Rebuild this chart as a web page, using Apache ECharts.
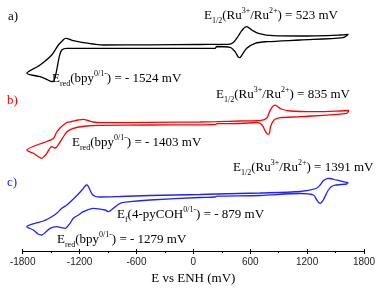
<!DOCTYPE html>
<html>
<head>
<meta charset="utf-8">
<script src="https://cdn.jsdelivr.net/npm/echarts@6/dist/echarts.min.js"></script>
<style>
  html, body { margin: 0; padding: 0; background: #fff; }
  #chart { width: 387px; height: 290px; }
</style>
</head>
<body>
<div id="chart"></div>
<script>
  // potential (mV vs ENH) and current (a.u.), closed loop per voltammogram
  const potA = [1635, 1548, 1126, 844, 686, 616, 580, 563, 545, 527, 500, 475, 422, 366, 71, -457, -949, -1055, -1160, -1266, -1310, -1335, -1355, -1371, -1424, -1494, -1617, -1757,
    -1617, -1533, -1495, -1477, -1460, -1441, -1414, -1388, -1335, -984, -457, 229, 247, 387, 440, 475, 490, 503, 563, 651, 774, 1126, 1579, 1635]
  const curA = [10.7, 10, 9, 9.3, 11.7, 15, 17.6, 18.3, 17.8, 16.2, 13, 9, 2.5, 0.7, 0.5, 0.2, 0, 1, 2.3, 4.3, 5.8, 6.7, 6.5, 5.2, 0, -10, -20, -28.3,
    -31.7, -35, -36.5, -36.5, -33, -25, -11.7, -5, -3.3, -3.3, -3.3, -3.3, -1.5, -2.3, -6.7, -12.2, -12.7, -11.5, -3.3, 1.7, 3.3, 5, 7.3, 10.7]

  const potB = [1642, 1548, 1302, 1020, 925, 880, 860, 835, 804, 772, 714, 493, 247, 71, -457, -984, -1058, -1111, -1160, -1213, -1283, -1335, -1371, -1406, -1441, -1477, -1546, -1652, -1757,
    -1688, -1620, -1599, -1575, -1546, -1494, -1459, -1406, -1335, -1266, -1125, -984, -457, 229, 247, 493, 672, 725, 762, 785, 800, 814, 851, 915, 1126, 1618, 1642]
  const curB = [12, 11.5, 10.8, 11.5, 13.5, 16.5, 17.3, 15.8, 10.8, 4.2, 2.2, 1.5, 0.8, 0.5, 0.2, -0.2, 0.5, 2, 3.2, 2.5, 1, 0, -2.5, -5.5, -9.5, -16, -19, -22.5, -27.5,
    -30.8, -35, -35.8, -34, -30.8, -24.2, -25.5, -19.5, -9.5, -5.8, -3.5, -2.8, -2.5, -2.2, -1.2, -1, 0, -2.5, -9.2, -11.6, -11.5, -4.2, 2.5, 4.8, 5.8, 9.2, 12]

  const potC = [1635, 1582, 1477, 1440, 1424, 1400, 1368, 1337, 1294, 1126, 704, 247, 71, -457, -773, -984, -1030, -1065, -1090, -1110, -1125, -1145, -1175, -1213, -1266, -1335, -1388, -1441, -1494, -1582, -1670, -1757,
    -1688, -1635, -1599, -1564, -1512, -1441, -1388, -1353, -1301, -1266, -1213, -1160, -1055, -931, -897, -844, -773, -668, -457, 71, 229, 247, 704, 1126, 1266, 1302, 1325, 1337, 1350, 1371, 1424, 1477, 1618, 1635]
  const curC = [13.3, 14.3, 16.7, 17.5, 17.7, 17, 15, 11, 7.5, 4.5, 3, 2, 1.5, 0.5, -0.5, -1, -0.5, 1.5, 6, 10, 11, 9.5, 6, 2, -3, -9, -12.3, -17.3, -20.7, -25, -27.3, -30.7,
    -34, -38.3, -39, -36.7, -32.3, -30.7, -31.7, -32.3, -27.3, -22.3, -19, -15.7, -12.3, -14, -15.7, -12.3, -7.3, -5.7, -4, -1.5, -1, -0.2, 0.5, 2.5, 1, -4, -6.8, -7.3, -6.5, -4, 6, 10.5, 12, 13.3]

  // vertical stacking of the three voltammograms
  const offsets = [206, 128.5, 55]
  const colors = ['#000000', '#ff0000', '#2222ff']
  const xTicks = [-1800, -1200, -600, 0, 600, 1200, 1800]

  const chart = echarts.init(document.getElementById('chart'))

  function pair(pot, cur, off) {
    return pot.map((p, i) => [p, cur[i] + off])
  }

  const serif = 'Liberation Serif'
  const rich = {
    t: { fontSize: 13, fontFamily: serif, lineHeight: 18, verticalAlign: 'middle' },
    sp: { fontSize: 8, fontFamily: serif, lineHeight: 9, verticalAlign: 'top' },
    sb: { fontSize: 8, fontFamily: serif, lineHeight: 9, verticalAlign: 'bottom' }
  }
  function txt(x, y, text, color) {
    return {
      type: 'text', x: x, y: y, silent: true,
      style: { text: text, rich: rich, fill: color || '#000', align: 'left', verticalAlign: 'middle', font: '13px ' + serif }
    }
  }

  chart.setOption({
    animation: false,
    grid: { left: 22.7, right: 23, top: 0, bottom: 39 },
    xAxis: [{
      type: 'value',
      min: xTicks[0],
      max: xTicks[xTicks.length - 1],
      interval: 600,
      name: 'E vs ENH (mV)',
      nameLocation: 'middle',
      nameGap: 19,
      nameTextStyle: { fontFamily: serif, fontSize: 13, color: '#000' },
      axisLine: { lineStyle: { color: '#000', width: 1 } },
      axisTick: { length: 3, lineStyle: { color: '#000' } },
      minorTick: { show: true, splitNumber: 2, length: 2, lineStyle: { color: '#000' } },
      splitLine: { show: false },
      axisLabel: { fontFamily: 'Liberation Sans', fontSize: 10, color: '#222', margin: 6, formatter: v => String(v) }
    }, {
      type: 'value',
      position: 'bottom',
      min: xTicks[0],
      max: xTicks[xTicks.length - 1],
      interval: 600,
      axisLine: { show: false },
      axisTick: { inside: true, length: 2, lineStyle: { color: '#000' } },
      minorTick: { show: false },
      splitLine: { show: false },
      axisLabel: { show: false }
    }],
    yAxis: { type: 'value', min: 0, max: 251, show: false },
    series: [
      { type: 'line', data: pair(potA, curA, offsets[0]), showSymbol: false, smooth: 0.3, lineStyle: { color: colors[0], width: 1.3 } },
      { type: 'line', data: pair(potB, curB, offsets[1]), showSymbol: false, smooth: 0.3, lineStyle: { color: colors[1], width: 1.3 } },
      { type: 'line', data: pair(potC, curC, offsets[2]), showSymbol: false, smooth: 0.3, lineStyle: { color: colors[2], width: 1.3 } }
    ],
    graphic: [
      txt(8, 17, '{t|a)}', colors[0]),
      txt(7, 101, '{t|b)}', colors[1]),
      txt(7, 183, '{t|c)}', colors[2]),
      txt(204, 16, '{t|E}{sb|1/2}{t|(Ru}{sp|3+}{t|/Ru}{sp|2+}{t|) = 523 mV}'),
      txt(52, 79, '{t|E}{sb|red}{t|(bpy}{sp|0/1-}{t|) = - 1524 mV}'),
      txt(216, 95, '{t|E}{sb|1/2}{t|(Ru}{sp|3+}{t|/Ru}{sp|2+}{t|) = 835 mV}'),
      txt(72, 143, '{t|E}{sb|red}{t|(bpy}{sp|0/1-}{t|) = - 1403 mV}'),
      txt(233, 168, '{t|E}{sb|1/2}{t|(Ru}{sp|3+}{t|/Ru}{sp|2+}{t|) = 1391 mV}'),
      txt(117, 215, '{t|E}{sb|f}{t|(4-pyCOH}{sp|0/1-}{t|) = - 879 mV}'),
      txt(57, 240, '{t|E}{sb|red}{t|(bpy}{sp|0/1-}{t|) = - 1279 mV}')
    ]
  })
</script>
</body>
</html>
